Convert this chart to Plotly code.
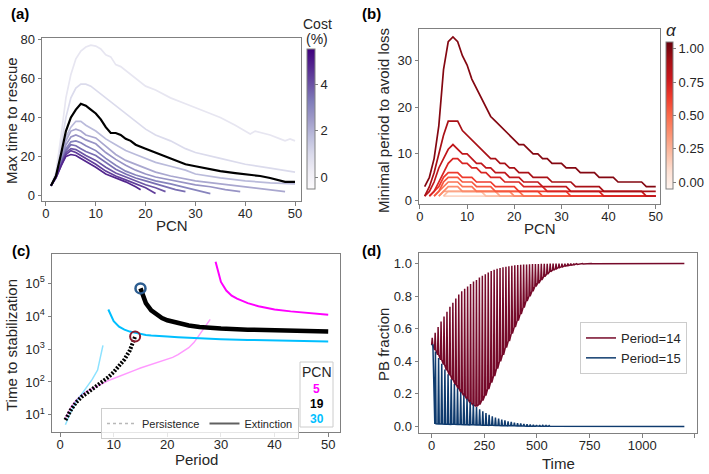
import plotly.graph_objects as go
from plotly.colors import sample_colorscale, sequential

# ---------------- Panel (a): max time to rescue vs PCN ----------------
cost_values = [0.0, 0.5, 1.0, 1.5, 2.0, 2.5, 3.0, 3.5, 4.0, 4.5, 5.0]
highlight_cost = 1.0

a_x_c00 = [1, 2, 3, 4, 5, 6, 7, 8, 9, 10, 11, 12, 13, 14, 15, 16, 17, 18, 19, 20, 22, 25, 28, 30, 33, 35, 38, 40, 41, 42, 45, 47, 48, 49, 50]
a_y_c00 = [5, 12, 30, 50, 62, 70, 74, 76, 77, 76.5, 75, 72, 71, 67, 66, 64, 62, 60, 58, 56, 54, 50, 47, 45, 42, 40, 36, 33, 31.5, 33, 31, 29, 28, 29, 28]
a_x_c05 = [1, 2, 3, 4, 5, 6, 7, 8, 9, 10, 12, 14, 16, 18, 20, 22, 25, 28, 30, 35, 40, 45, 50]
a_y_c05 = [5, 11, 25, 40, 50, 55, 57, 57, 56, 54, 50, 46, 42, 38, 34, 31, 28, 24, 22, 19, 16, 14, 12]
a_x_c10 = [1, 2, 3, 4, 5, 6, 7, 8, 9, 10, 11, 12, 13, 14, 15, 16, 17, 18, 20, 22, 25, 28, 30, 33, 35, 38, 40, 43, 45, 47, 48, 50]
a_y_c10 = [5, 10, 21, 33, 40, 44, 47, 46, 44, 42, 39, 35, 32, 32, 31, 29, 28, 26, 24, 22, 19, 16, 15, 13.5, 12.5, 11.5, 11, 10, 9, 7.5, 7, 7]
a_x_c15 = [1, 2, 3, 4, 5, 6, 7, 8, 10, 12, 14, 16, 18, 20, 22, 25, 28, 30, 35, 40, 45, 50]
a_y_c15 = [5, 10, 20, 30, 35, 38, 38, 36, 33, 29, 26, 23, 21, 19, 17, 15, 13, 11, 9, 7.5, 6.5, 6]
a_x_c20 = [1, 2, 3, 4, 5, 6, 7, 8, 10, 12, 14, 16, 18, 20, 22, 25, 28, 30, 35, 40, 45, 48]
a_y_c20 = [5, 10, 19, 28, 33, 34, 33, 31, 29.5, 25, 21, 18, 16, 14, 12, 10, 8.5, 7.5, 6, 4.5, 3, 2]
a_x_c25 = [1, 2, 3, 4, 5, 6, 7, 8, 10, 12, 14, 16, 18, 20, 22, 25, 28, 30, 33, 36, 39]
a_y_c25 = [5, 10, 18, 26, 30, 31, 30, 28.5, 26.5, 22, 18.5, 15.5, 13, 11, 9.5, 8, 6.5, 5.5, 4.5, 3, 2]
a_x_c30 = [1, 2, 3, 4, 5, 6, 7, 8, 10, 12, 14, 16, 18, 20, 22, 25, 28, 30, 33]
a_y_c30 = [5, 10, 17, 24, 27.5, 28, 27, 25.5, 23, 19, 15.5, 12.5, 10.5, 9, 7.5, 6, 4, 3, 1]
a_x_c35 = [1, 2, 3, 4, 5, 6, 7, 8, 10, 12, 14, 16, 18, 20, 22, 24, 26, 28]
a_y_c35 = [5, 9.5, 16, 23, 26, 25.5, 24, 22.5, 20.5, 17, 13.5, 11, 9, 7.5, 6, 4.5, 3, 2]
a_x_c40 = [1, 2, 3, 4, 5, 6, 7, 8, 10, 12, 14, 16, 18, 20, 22, 24]
a_y_c40 = [5, 9.5, 16, 22, 24, 23.5, 22, 20.5, 18, 14.5, 11.5, 9.5, 7.5, 5.5, 4, 2]
a_x_c45 = [1, 2, 3, 4, 5, 6, 7, 8, 10, 12, 14, 16, 18, 20, 22]
a_y_c45 = [5, 9, 15, 21, 23, 22, 20.5, 19, 16, 12.5, 10, 8, 6, 4, 1]
a_x_c50 = [1, 2, 3, 4, 5, 6, 7, 8, 10, 12, 14, 16, 18, 19]
a_y_c50 = [5, 9, 15, 20, 21, 20.5, 19, 17.5, 14.5, 11, 9, 7, 4.5, 3]

a_xs = [a_x_c00, a_x_c05, a_x_c10, a_x_c15, a_x_c20, a_x_c25, a_x_c30, a_x_c35, a_x_c40, a_x_c45, a_x_c50]
a_ys = [a_y_c00, a_y_c05, a_y_c10, a_y_c15, a_y_c20, a_y_c25, a_y_c30, a_y_c35, a_y_c40, a_y_c45, a_y_c50]

# ---------------- Panel (b): minimal period to avoid loss ----------------
alpha_values = [0.0, 0.1, 0.2, 0.3, 0.4, 0.5, 0.6, 0.7, 0.8, 0.9, 1.0]
b_start_pcn = [5, 5, 4, 4, 3, 3, 2, 2, 1, 1, 1]
b_y_a00 = [1] * 46
b_y_a01 = [1, 2, 2, 2, 2, 2, 2, 2, 2, 1, 1, 1, 1, 1, 1, 1, 1, 1, 1, 1, 1, 1, 1, 1, 1, 1, 1, 1, 1, 1, 1, 1, 1, 1, 1, 1, 1, 1, 1, 1, 1, 1, 1, 1, 1, 1]
b_y_a02 = [1, 2, 2, 2, 2, 2, 2, 2, 2, 2, 2, 2, 2, 1, 1, 1, 1, 1, 1, 1, 1, 1, 1, 1, 1, 1, 1, 1, 1, 1, 1, 1, 1, 1, 1, 1, 1, 1, 1, 1, 1, 1, 1, 1, 1, 1, 1]
b_y_a03 = [1, 2, 3, 3, 3, 2, 2, 2, 2, 2, 2, 2, 2, 2, 2, 2, 1, 1, 1, 1, 1, 1, 1, 1, 1, 1, 1, 1, 1, 1, 1, 1, 1, 1, 1, 1, 1, 1, 1, 1, 1, 1, 1, 1, 1, 1, 1]
b_y_a04 = [1, 2, 3, 4, 4, 4, 3, 3, 3, 2, 2, 2, 2, 2, 2, 2, 2, 2, 2, 1, 1, 1, 1, 1, 1, 1, 1, 1, 1, 1, 1, 1, 1, 1, 1, 1, 1, 1, 1, 1, 1, 1, 1, 1, 1, 1, 1, 1]
b_y_a05 = [1, 2, 4, 5, 5, 5, 4, 4, 4, 3, 3, 3, 3, 2, 2, 2, 2, 2, 2, 2, 2, 2, 2, 1, 1, 1, 1, 1, 1, 1, 1, 1, 1, 1, 1, 1, 1, 1, 1, 1, 1, 1, 1, 1, 1, 1, 1, 1]
b_y_a06 = [1, 2, 3, 5, 6, 6, 6, 5, 5, 5, 4, 4, 4, 4, 3, 3, 3, 3, 3, 2, 2, 2, 2, 2, 2, 2, 2, 2, 2, 2, 1, 1, 1, 1, 1, 1, 1, 1, 1, 1, 1, 1, 1, 1, 1, 1, 1, 1, 1]
b_y_a07 = [1, 2, 4, 6, 8, 9, 9, 8, 8, 7, 7, 6, 6, 5, 5, 5, 4, 4, 4, 4, 3, 3, 3, 3, 3, 2, 2, 2, 2, 2, 2, 2, 2, 2, 2, 2, 2, 1, 1, 1, 1, 1, 1, 1, 1, 1, 1, 1, 1]
b_y_a08 = [1, 2, 4, 7, 9, 11, 12, 11, 10, 10, 9, 8, 8, 7, 7, 6, 6, 6, 5, 5, 5, 4, 4, 4, 4, 3, 3, 3, 3, 3, 3, 2, 2, 2, 2, 2, 2, 2, 2, 2, 2, 2, 2, 2, 2, 2, 2, 1, 1, 1]
b_y_a09 = [1, 3, 6, 10, 14, 17, 17, 17, 15, 14, 13, 12, 11, 10, 9, 9, 8, 8, 7, 7, 6, 6, 6, 5, 5, 5, 5, 4, 4, 4, 4, 4, 3, 3, 3, 3, 3, 3, 2, 2, 2, 2, 2, 2, 2, 2, 2, 2, 2, 2]
b_y_a10 = [3, 5, 9, 16, 28, 34, 35, 34, 31, 29, 26, 24, 22, 20, 18, 17, 16, 15, 14, 13, 12, 12, 11, 10, 10, 9, 9, 8, 8, 8, 7, 7, 7, 6, 6, 6, 6, 5, 5, 5, 5, 4, 4, 4, 4, 4, 4, 3, 3, 3]
b_ys = [b_y_a00, b_y_a01, b_y_a02, b_y_a03, b_y_a04, b_y_a05, b_y_a06, b_y_a07, b_y_a08, b_y_a09, b_y_a10]

# ---------------- Panel (c): time to stabilization vs period ----------------
c_pcn_labels = ["5", "19", "30"]
c5_pers_x = list(range(1, 29))
c5_pers_y = [8, 17, 28, 40, 52, 63, 77, 92, 110, 128, 150, 175, 200, 230, 265, 300, 340, 385, 430, 480, 560, 680, 850, 1100, 1600, 2700, 4500, 8000]
c5_ext_x = [29, 30, 31, 32, 33, 35, 37, 40, 43, 46, 50]
c5_ext_y = [450000, 110000, 60000, 42000, 34000, 25000, 20000, 16000, 14000, 12500, 11000]
c19_pers_x = list(range(1, 15))
c19_pers_y = [7, 14, 24, 35, 46, 60, 78, 100, 140, 200, 300, 480, 900, 2400]
c19_ext_x = [15, 16, 17, 18, 19, 20, 22, 24, 26, 28, 30, 35, 40, 45, 50]
c19_ext_y = [70000, 25000, 15000, 11000, 8800, 7500, 6000, 5200, 4700, 4400, 4200, 3900, 3700, 3500, 3400]
c30_pers_x = list(range(1, 9))
c30_pers_y = [5, 12, 25, 42, 70, 120, 230, 1300]
c30_ext_x = [9, 10, 11, 12, 13, 14, 15, 16, 17, 18, 20, 22, 25, 28, 30, 35, 40, 45, 50]
c30_ext_y = [16000, 7000, 4800, 3900, 3400, 3100, 2900, 2700, 2600, 2500, 2400, 2300, 2150, 2050, 2000, 1900, 1850, 1780, 1700]
c_last_persist = (14, 2400)
c_first_extinct = (15, 70000)

# ---------------- Panel (d): PB fraction over time ----------------
d_period_a = 14
d_period_b = 15
d_t_end = 1200
d_hi_14 = [0.545, 0.575, 0.61, 0.645, 0.675, 0.705, 0.735, 0.76, 0.785, 0.81,
           0.83, 0.845, 0.86, 0.875, 0.89, 0.90, 0.915, 0.925, 0.935, 0.945,
           0.955, 0.962, 0.968, 0.973, 0.977, 0.98, 0.983, 0.986, 0.989, 0.991,
           0.993, 0.994, 0.995, 0.996, 0.997, 0.998, 0.998, 0.999, 0.999, 0.999,
           1.0, 1.0, 1.0, 1.0, 1.0, 1.0, 1.0, 1.0, 1.0, 1.0,
           1.0, 1.0, 1.0, 1.0, 1.0, 1.0, 1.0, 1.0, 1.0, 1.0,
           1.0, 1.0, 1.0, 1.0, 1.0, 1.0, 1.0, 1.0, 1.0, 1.0,
           1.0, 1.0, 1.0, 1.0, 1.0, 1.0, 1.0, 1.0, 1.0, 1.0,
           1.0, 1.0, 1.0, 1.0, 1.0, 1.0]
d_lo_14 = [0.50, 0.47, 0.44, 0.41, 0.38, 0.345, 0.315, 0.285, 0.255, 0.23,
           0.205, 0.185, 0.165, 0.145, 0.13, 0.125, 0.135, 0.16, 0.19, 0.23,
           0.27, 0.31, 0.355, 0.40, 0.44, 0.485, 0.525, 0.57, 0.61, 0.65,
           0.69, 0.73, 0.77, 0.80, 0.83, 0.86, 0.88, 0.90, 0.92, 0.935,
           0.95, 0.96, 0.968, 0.975, 0.98, 0.985, 0.988, 0.991, 0.993, 0.995,
           0.996, 0.997, 0.998, 0.998, 0.999, 0.999, 0.999, 1.0, 1.0, 1.0,
           1.0, 1.0, 1.0, 1.0, 1.0, 1.0, 1.0, 1.0, 1.0, 1.0,
           1.0, 1.0, 1.0, 1.0, 1.0, 1.0, 1.0, 1.0, 1.0, 1.0,
           1.0, 1.0, 1.0, 1.0, 1.0, 1.0]
d_hi_15 = [0.50, 0.46, 0.42, 0.385, 0.35, 0.32, 0.29, 0.26, 0.235, 0.21,
           0.19, 0.17, 0.15, 0.135, 0.12, 0.105, 0.093, 0.082, 0.072, 0.063,
           0.055, 0.048, 0.042, 0.037, 0.032, 0.028, 0.024, 0.021, 0.018, 0.016,
           0.014, 0.012, 0.010, 0.009, 0.008, 0.007, 0.006, 0.005, 0.004, 0.004,
           0.003, 0.003, 0.002, 0.002, 0.002, 0.002, 0.001, 0.001, 0.001, 0.001,
           0.0, 0.0, 0.0, 0.0, 0.0, 0.0, 0.0, 0.0, 0.0, 0.0,
           0.0, 0.0, 0.0, 0.0, 0.0, 0.0, 0.0, 0.0, 0.0, 0.0,
           0.0, 0.0, 0.0, 0.0, 0.0, 0.0, 0.0, 0.0, 0.0, 0.0]
d_lo_15 = [0.50, 0.016, 0.015, 0.015, 0.014, 0.014, 0.013, 0.013, 0.012, 0.012,
           0.011, 0.011, 0.010, 0.010, 0.009, 0.009, 0.008, 0.008, 0.007, 0.007,
           0.006, 0.006, 0.005, 0.005, 0.004, 0.004, 0.004, 0.003, 0.003, 0.003,
           0.002, 0.002, 0.002, 0.002, 0.001, 0.001, 0.001, 0.001, 0.001, 0.001,
           0.0, 0.0, 0.0, 0.0, 0.0, 0.0, 0.0, 0.0, 0.0, 0.0,
           0.0, 0.0, 0.0, 0.0, 0.0, 0.0, 0.0, 0.0, 0.0, 0.0,
           0.0, 0.0, 0.0, 0.0, 0.0, 0.0, 0.0, 0.0, 0.0, 0.0,
           0.0, 0.0, 0.0, 0.0, 0.0, 0.0, 0.0, 0.0, 0.0, 0.0]

# ================= figure =================
W, H = 709, 474
FONT = "Liberation Sans, Arial, Helvetica, sans-serif"
AXC = "#808080"
TXT = "#262626"


def xdom(p0, p1):
    return [p0 / W, p1 / W]


def ydom(p0, p1):
    return [1 - p1 / H, 1 - p0 / H]


def px(v):
    return v / W


def py(v):
    return 1 - v / H


def scale_from(colors):
    n = len(colors) - 1
    return [[i / n, c] for i, c in enumerate(colors)]


purples = scale_from(sequential.Purples)
reds = scale_from(sequential.Reds)

fig = go.Figure()

# ---- (a)
a_cmin, a_cmax = -0.5, 5.5
for c, xs, ys in zip(cost_values, a_xs, a_ys):
    if c == highlight_cost:
        continue
    col = sample_colorscale(purples, [0.1 + 0.85 * (c - a_cmin) / (a_cmax - a_cmin)])[0]
    fig.add_trace(go.Scatter(x=xs, y=ys, mode="lines", line=dict(color=col, width=1.7),
                             showlegend=False, hoverinfo="skip", xaxis="x", yaxis="y"))
hi = cost_values.index(highlight_cost)
fig.add_trace(go.Scatter(x=a_xs[hi], y=a_ys[hi], mode="lines", line=dict(color="black", width=2.2),
                         showlegend=False, hoverinfo="skip", xaxis="x", yaxis="y"))
fig.add_trace(go.Scatter(x=[None] * len(cost_values), y=[None] * len(cost_values), mode="markers",
                         marker=dict(color=cost_values, colorscale=purples, cmin=a_cmin, cmax=a_cmax,
                                     showscale=True,
                                     colorbar=dict(x=px(307), xanchor="left", y=py(49), yanchor="top",
                                                   len=140, lenmode="pixels", thickness=8,
                                                   thicknessmode="pixels", xpad=0, ypad=0,
                                                   outlinewidth=1, outlinecolor=AXC,
                                                   tickvals=[0, 2, 4], ticks="outside", ticklen=3,
                                                   tickcolor=AXC,
                                                   tickfont=dict(size=13, color=TXT, family=FONT))),
                         showlegend=False, hoverinfo="skip", xaxis="x", yaxis="y"))

# ---- (b)
b_cmin, b_cmax = -0.05, 1.05
for a, st, ys in zip(alpha_values, b_start_pcn, b_ys):
    xs = list(range(st, st + len(ys)))
    col = sample_colorscale(reds, [0.12 + 0.86 * (a - b_cmin) / (b_cmax - b_cmin)])[0]
    fig.add_trace(go.Scatter(x=xs, y=ys, mode="lines", line=dict(color=col, width=1.7),
                             showlegend=False, hoverinfo="skip", xaxis="x2", yaxis="y2"))
fig.add_trace(go.Scatter(x=[None] * len(alpha_values), y=[None] * len(alpha_values), mode="markers",
                         marker=dict(color=alpha_values, colorscale=reds, cmin=b_cmin, cmax=b_cmax,
                                     showscale=True,
                                     colorbar=dict(x=px(666), xanchor="left", y=py(42), yanchor="top",
                                                   len=147, lenmode="pixels", thickness=7,
                                                   thicknessmode="pixels", xpad=0, ypad=0,
                                                   outlinewidth=1, outlinecolor=AXC,
                                                   tickvals=[0, 0.25, 0.5, 0.75, 1.0],
                                                   ticktext=["0.00", "0.25", "0.50", "0.75", "1.00"],
                                                   ticks="outside", ticklen=3, tickcolor=AXC,
                                                   tickfont=dict(size=13, color=TXT, family=FONT))),
                         showlegend=False, hoverinfo="skip", xaxis="x2", yaxis="y2"))

# ---- (c)
MAG, CYA = "#ff00ff", "#00bfff"
MAG_L, CYA_L = "rgba(255,0,255,0.4)", "rgba(0,191,255,0.45)"
for xs, ys, col, w, dash in [
    (c5_pers_x, c5_pers_y, MAG_L, 1.5, "solid"),
    (c30_pers_x, c30_pers_y, CYA_L, 1.5, "solid"),
    (c5_ext_x, c5_ext_y, MAG, 2, "solid"),
    (c30_ext_x, c30_ext_y, CYA, 2, "solid"),
    (c19_ext_x, c19_ext_y, "black", 4.5, "solid"),
    (c19_pers_x, c19_pers_y, "black", 4, "2px,1.5px"),
]:
    fig.add_trace(go.Scatter(x=xs, y=ys, mode="lines", line=dict(color=col, width=w, dash=dash),
                             showlegend=False, hoverinfo="skip", xaxis="x3", yaxis="y3"))
fig.add_trace(go.Scatter(x=[c_last_persist[0]], y=[c_last_persist[1]], mode="markers",
                         marker=dict(symbol="circle-open", size=10, color="#8b1a2e",
                                     line=dict(color="#8b1a2e", width=2)),
                         showlegend=False, hoverinfo="skip", xaxis="x3", yaxis="y3"))
fig.add_trace(go.Scatter(x=[c_first_extinct[0]], y=[c_first_extinct[1]], mode="markers",
                         marker=dict(symbol="circle-open", size=10, color="#2b5c8f",
                                     line=dict(color="#2b5c8f", width=2.5)),
                         showlegend=False, hoverinfo="skip", xaxis="x3", yaxis="y3"))
fig.add_trace(go.Scatter(x=[None], y=[None], mode="lines", name="Persistence",
                         line=dict(color="#b8b8b8", width=1.5, dash="dot"),
                         legend="legend2", xaxis="x3", yaxis="y3"))
fig.add_trace(go.Scatter(x=[None], y=[None], mode="lines", name="Extinction",
                         line=dict(color="#606060", width=2),
                         legend="legend2", xaxis="x3", yaxis="y3"))


# ---- (d)
def sawtooth(period, lo, hi, t_end):
    xs, ys = [], []
    for k, (l, h) in enumerate(zip(lo, hi)):
        t0 = period * k
        xs += [t0, t0 + 0.2 * period, t0 + 0.4 * period]
        ys += [l, h, l]
    xs.append(t_end)
    ys.append(lo[-1])
    return xs, ys


RED_D, BLUE_D = "#760a2a", "#0f3b6e"
x14, y14 = sawtooth(d_period_a, d_lo_14, d_hi_14, d_t_end)
x15, y15 = sawtooth(d_period_b, d_lo_15, d_hi_15, d_t_end)
fig.add_trace(go.Scatter(x=x14, y=y14, mode="lines", line=dict(color=RED_D, width=1.5),
                         name="Period=%d" % d_period_a, legend="legend", xaxis="x4", yaxis="y4",
                         hoverinfo="skip"))
fig.add_trace(go.Scatter(x=x15, y=y15, mode="lines", line=dict(color=BLUE_D, width=1.5),
                         name="Period=%d" % d_period_b, legend="legend", xaxis="x4", yaxis="y4",
                         hoverinfo="skip"))

# ---- axes
base = dict(showline=True, mirror=True, linecolor=AXC, linewidth=1, ticks="outside", ticklen=3.5,
            tickcolor=AXC, showgrid=False, zeroline=False,
            tickfont=dict(size=13, color=TXT, family=FONT))
xbase = dict(base, ticklabelstandoff=-3)

fig.update_layout(
    width=W, height=H, margin=dict(l=0, r=0, t=0, b=0, autoexpand=False),
    paper_bgcolor="white", plot_bgcolor="white",
    font=dict(family=FONT, color=TXT),
    xaxis=dict(xbase, domain=xdom(42, 301), range=[-0.8, 51.2], tickvals=[0, 10, 20, 30, 40, 50], anchor="y"),
    yaxis=dict(base, domain=ydom(37.7, 201), range=[-2.8, 80.8], tickvals=[0, 20, 40, 60, 80], anchor="x"),
    xaxis2=dict(xbase, domain=xdom(419, 660), range=[-0.2, 50.9], tickvals=[0, 10, 20, 30, 40, 50], anchor="y2"),
    yaxis2=dict(base, domain=ydom(29, 204), range=[-0.7, 36.7], tickvals=[0, 10, 20, 30], anchor="x2"),
    xaxis3=dict(xbase, domain=xdom(52, 340), range=[-1.5, 52.2], tickvals=[0, 10, 20, 30, 40, 50], anchor="y3"),
    yaxis3=dict(base, domain=ydom(254, 432), type="log", range=[0.48, 5.89],
                tickvals=[10, 100, 1000, 10000, 100000],
                ticktext=["10<sup>1</sup>", "10<sup>2</sup>", "10<sup>3</sup>", "10<sup>4</sup>", "10<sup>5</sup>"],
                anchor="x3"),
    xaxis4=dict(xbase, domain=xdom(419, 697), range=[-60, 1260], tickvals=[0, 250, 500, 750, 1000, 1250], anchor="y4"),
    yaxis4=dict(base, domain=ydom(253, 433), range=[-0.04, 1.065], tickvals=[0, 0.2, 0.4, 0.6, 0.8, 1.0],
                tickformat=".1f", anchor="x4"),
    legend=dict(x=px(580), y=py(322), xanchor="left", yanchor="top", bgcolor="white",
                bordercolor="#cccccc", borderwidth=1, font=dict(size=13, color=TXT, family=FONT),
                tracegroupgap=0),
    legend2=dict(x=px(101), y=py(408), xanchor="left", yanchor="top", orientation="h",
                 bgcolor="rgba(255,255,255,0.8)", bordercolor="#cccccc", borderwidth=1,
                 font=dict(size=11, color=TXT, family=FONT)),
)

# PCN key box for panel (c)
fig.add_shape(type="rect", xref="paper", yref="paper", x0=px(300), x1=px(333),
              y0=py(427), y1=py(362), line=dict(color="#cccccc", width=1),
              fillcolor="rgba(255,255,255,0.8)", layer="above")

ann = []


def text(t, x, y, size=15, color=TXT, angle=0):
    ann.append(dict(text=t, x=px(x), y=py(y), xref="paper", yref="paper", showarrow=False,
                    font=dict(size=size, color=color, family=FONT), textangle=angle,
                    xanchor="center", yanchor="middle"))


# panel labels
for lab, x, y in [("(a)", 20, 13), ("(b)", 371, 13), ("(c)", 21, 250), ("(d)", 371, 250)]:
    text("<b>%s</b>" % lab, x, y, size=15, color="black")
# axis titles
text("PCN", 171.5, 226)
text("Max time to rescue", 11, 121, angle=-90)
text("PCN", 539.5, 228)
text("Minimal period to avoid loss", 383, 121, angle=-90)
text("Period", 196, 459)
text("Time to stabilization", 11, 345, angle=-90)
text("Time", 558, 463)
text("PB fraction", 383, 345, angle=-90)
# colorbar titles
text("Cost", 317, 24, size=14)
text("(%)", 317, 39, size=14)
text("<i>α</i>", 671, 30, size=17)
# PCN key
text("PCN", 316.5, 372, size=14)
for lab, col, y in zip(c_pcn_labels, [MAG, "black", CYA], [389, 404, 419]):
    text("<b>%s</b>" % lab, 316.5, y, size=12, color=col)

fig.update_layout(annotations=ann)

fig.write_html("out.html", config={"displayModeBar": False},
               post_script="document.body.style.margin='0';document.body.style.overflow='hidden';")
